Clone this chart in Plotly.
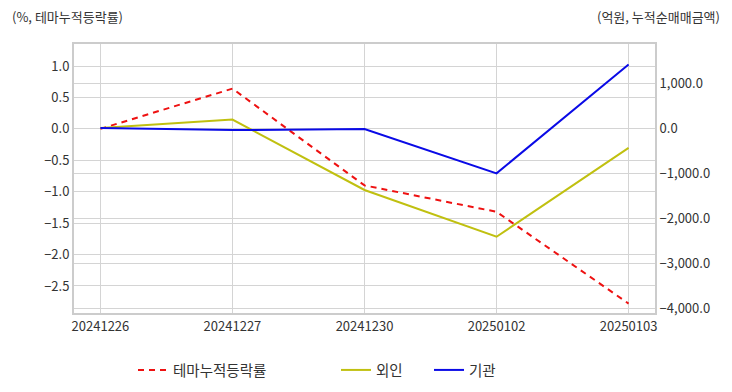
import plotly.graph_objects as go

dates = ["20241226", "20241227", "20241230", "20250102", "20250103"]
theme_rate = [0.0, 0.64, -0.90, -1.32, -2.78]
foreign = [0.0, 190.0, -1375.0, -2415.0, -440.0]
institution = [0.0, -44.0, -22.0, -1005.0, 1415.0]

FONT = "Noto Sans CJK KR"
GRID = "#d4d4d4"
TXT = "#333333"

fig = go.Figure()
fig.add_trace(go.Scatter(x=dates, y=theme_rate, name="테마누적등락률", mode="lines",
                         line=dict(color="#ee1111", width=2, dash="6px,5px"), yaxis="y",
                         legend="legend"))
fig.add_trace(go.Scatter(x=dates, y=foreign, name="외인", mode="lines",
                         line=dict(color="#c0c010", width=2), yaxis="y2", legend="legend2"))
fig.add_trace(go.Scatter(x=dates, y=institution, name="기관", mode="lines",
                         line=dict(color="#0a0ae6", width=2), yaxis="y2", legend="legend2"))

# page has an 8px body margin; lay out in page pixels and convert
OFF = 8
W, H = 732 - OFF, 392 - OFF
PL, PR, PT, PB = 74, 655, 44, 313  # plot area in page pixels
L, T = PL - OFF, PT - OFF
R, B = W - (PR - OFF), H - (PB - OFF)
pw, ph = W - L - R, H - T - B


def px_x(x):
    return (x - OFF - L) / pw


def px_y(y):
    return 1 - (y - OFF - T) / ph


TICKF = dict(size=13, color=TXT)

fig.update_layout(
    width=W, height=H,
    margin=dict(l=L, r=R, t=T, b=B, autoexpand=False),
    paper_bgcolor="white", plot_bgcolor="white",
    font=dict(family=FONT, size=13, color=TXT),
    xaxis=dict(type="category", range=[-0.2, 4.2], showgrid=True, gridcolor=GRID, gridwidth=1,
               showline=True, linecolor="#cccccc", linewidth=2, mirror=True,
               ticks="", tickfont=TICKF, automargin=False),
    yaxis=dict(range=[-2.93, 1.35], dtick=0.5, tick0=0, tickformat=".1f",
               showgrid=True, gridcolor=GRID, zeroline=False,
               showline=True, linecolor="#cccccc", linewidth=2,
               ticks="", automargin=False, tickfont=TICKF),
    yaxis2=dict(range=[-4110, 1870], dtick=1000, tick0=0, tickformat=",.1f",
                overlaying="y", side="right", showgrid=True, gridcolor=GRID, zeroline=False,
                showline=True, linecolor="#cccccc", linewidth=2, ticks="", automargin=False,
                tickfont=TICKF),
    legend=dict(orientation="h", x=px_x(133), xanchor="left", y=px_y(370), yanchor="middle",
                font=dict(size=14.5, color=TXT), bgcolor="rgba(0,0,0,0)"),
    legend2=dict(orientation="h", x=px_x(336), xanchor="left", y=px_y(370), yanchor="middle",
                 font=dict(size=14.5, color=TXT), entrywidth=48, entrywidthmode="pixels",
                 bgcolor="rgba(0,0,0,0)"),
    showlegend=True,
    annotations=[
        dict(text="(%, 테마누적등락률)", xref="paper", yref="paper", x=px_x(10), y=px_y(16),
             xanchor="left", yanchor="middle", showarrow=False, font=dict(size=13, color=TXT)),
        dict(text="(억원, 누적순매매금액)", xref="paper", yref="paper", x=px_x(722), y=px_y(16),
             xanchor="right", yanchor="middle", showarrow=False, font=dict(size=13, color=TXT)),
    ],
)

fig.write_html("out.html")
